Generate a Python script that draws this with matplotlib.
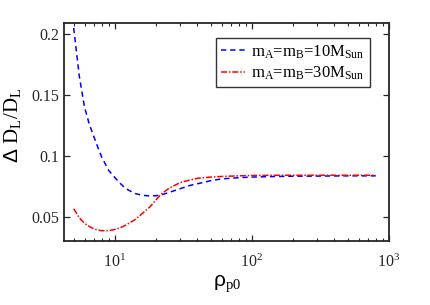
import matplotlib
matplotlib.use("Agg")
import matplotlib.pyplot as plt

plt.rcParams['font.family'] = ['Liberation Serif', 'DejaVu Serif']
plt.rcParams['mathtext.fontset'] = 'custom'
plt.rcParams['mathtext.rm'] = 'Liberation Serif'
plt.rcParams['mathtext.it'] = 'Liberation Serif:italic'

# rho_p0 samples and Delta D_L / D_L
rho = [5, 5.5, 6, 6.5, 7, 7.5, 8, 9, 10, 11, 12, 14, 16, 18, 20, 22, 25, 30,
       35, 40, 50, 60, 80, 100, 150, 200, 300, 500, 800]
err_10 = [0.205, 0.165, 0.140, 0.126, 0.116, 0.107, 0.099, 0.088, 0.082,
          0.077, 0.073, 0.069, 0.0675, 0.067, 0.0672, 0.068, 0.070, 0.073,
          0.0755, 0.077, 0.0795, 0.081, 0.082, 0.0825, 0.083, 0.0832, 0.0833,
          0.0835, 0.0835]
err_30 = [0.0565, 0.049, 0.0445, 0.042, 0.040, 0.039, 0.0385, 0.0385, 0.0395,
          0.041, 0.043, 0.0475, 0.053, 0.058, 0.064, 0.069, 0.0735, 0.078,
          0.080, 0.0815, 0.0825, 0.083, 0.0835, 0.0838, 0.084, 0.084, 0.084,
          0.084, 0.084]
labels = [r'm$_\mathrm{A}$=m$_\mathrm{B}$=10M$_\mathrm{Sun}$',
          r'm$_\mathrm{A}$=m$_\mathrm{B}$=30M$_\mathrm{Sun}$']

fig, ax = plt.subplots(figsize=(4.31, 3.05), dpi=100)
fig.subplots_adjust(left=0.1485, right=0.9026, top=0.9246, bottom=0.2098)

ax.plot(rho, err_10, color='blue', lw=1.1, linestyle=(0, (3.5, 2.5)), label=labels[0])
ax.plot(rho, err_30, color='red', lw=1.1, linestyle=(0, (4, 1.2, 1, 1.2)), label=labels[1])

ax.set_xscale('log')
ax.set_xlim(4.25, 1000)
ax.set_ylim(0.03, 0.209)
ax.set_yticks([0.05, 0.1, 0.15, 0.2])
ax.set_yticklabels(['0.05', '0.1', '0.15', '0.2'])

ax.tick_params(which='both', direction='in', top=True, right=True, labelsize=11.5, colors='#262626')
ax.tick_params(which='major', length=4, width=0.9)
ax.tick_params(which='minor', length=2.5, width=0.8)
ax.tick_params(axis='x', which='major', pad=9)
for s in ax.spines.values():
    s.set_linewidth(1.3)
    s.set_color('#262626')

ax.set_xlabel(r'ρ$_\mathrm{p0}$', fontsize=15, family='Liberation Sans', labelpad=2)
ax.set_ylabel(r'Δ $\mathrm{D_L/D_L}$', fontsize=15, family='Liberation Sans')
ax.yaxis.set_label_coords(-0.125, 0.53)

leg = ax.legend(loc='upper right', bbox_to_anchor=(0.94, 0.93), fontsize=12,
                frameon=True, fancybox=False, handlelength=1.4, handletextpad=0.4,
                borderpad=0.3, labelspacing=0.25, borderaxespad=0)
leg.get_frame().set_edgecolor('black')
leg.get_frame().set_linewidth(1.0)

fig.savefig('out.png', dpi=100)
